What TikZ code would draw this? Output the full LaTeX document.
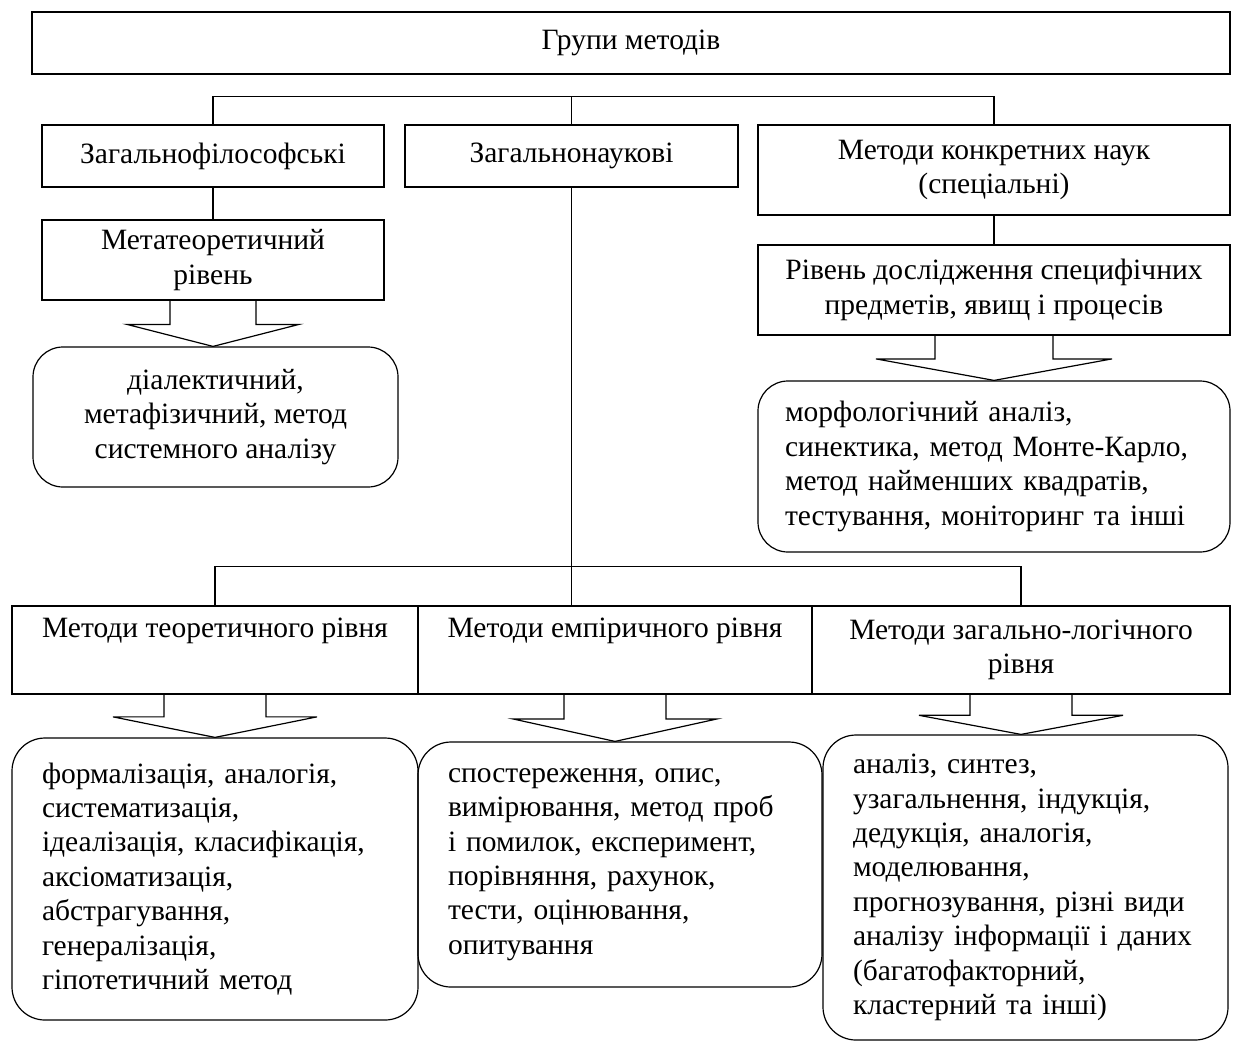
\documentclass[tikz,border=0pt]{standalone}
\usepackage{fontspec}
\setmainfont{Liberation Serif}
\usetikzlibrary{calc}
\tikzset{every picture/.style={line width=1.2pt}}

% hollow block arrow: source node, target node, half width of the stem
\newcommand{\blockarrow}[3]{%
  \coordinate (ba-top) at (#1.south);
  \coordinate (ba-tip) at (#1.south |- #2.north);
  \coordinate (ba-mid) at ($(ba-top)!0.52!(ba-tip)$);
  \draw ($(ba-top)+(-#3,0)$) -- ($(ba-mid)+(-#3,0)$) -- ($(ba-mid)+(-2*#3,0)$) -- (ba-tip)
    -- ($(ba-mid)+(2*#3,0)$) -- ($(ba-mid)+(#3,0)$) -- ($(ba-top)+(#3,0)$);
}

\begin{document}
\begin{tikzpicture}[x=1pt,y=1pt,yscale=-1,xscale=1,
  font=\fontsize{29.5}{34.4}\selectfont,
  box/.style={draw, inner sep=0pt, align=center},
  rbox/.style={draw, rounded corners=30pt, inner sep=0pt}]
\useasboundingbox (0,0) rectangle (1234,1045);

% top
\node[box, minimum width=1198pt, minimum height=62pt] (root) at (631,43) {Групи методів};

% second row
\node[box, minimum width=342pt, minimum height=62pt] (phil) at (213,156) {Загальнофілософські};
\node[box, minimum width=333pt, minimum height=62pt] (sci) at (571.5,156) {Загальнонаукові};
\node[box, minimum width=472pt, minimum height=90pt] (spec) at (994,170) {Методи конкретних наук\\(спеціальні)};

% left column
\node[box, minimum width=342pt, minimum height=80pt] (meta) at (213,260) {Метатеоретичний\\рівень};
\node[rbox, align=center, minimum width=365pt, minimum height=140pt] (dial) at (215.5,417)
  {діалектичний,\\метафізичний, метод\\системного аналізу};

% right column
\node[box, minimum width=472pt, minimum height=90pt] (level) at (994,290) {Рівень дослідження специфічних\\предметів, явищ і процесів};
\node[rbox, align=left, text width=418pt, minimum width=472pt, minimum height=171pt] (morph) at (994,466.5)
  {морфологічний аналіз,\\синектика, метод Монте-Карло,\\метод найменших квадратів,\\тестування, моніторинг та інші};

% third row
\node[box, minimum width=406pt, minimum height=88pt] (theor) at (215,650) {Методи теоретичного рівня\\\strut};
\node[box, minimum width=394pt, minimum height=88pt] (emp) at (615,650) {Методи емпіричного рівня\\\strut};
\node[box, minimum width=418pt, minimum height=88pt] (logic) at (1021,650) {Методи загально-логічного\\рівня};

% bottom
\node[rbox, rounded corners=33pt, align=left, text width=346pt, minimum width=406pt, minimum height=282pt] (formal) at (215,879)
  {формалізація, аналогія,\\систематизація,\\ідеалізація, класифікація,\\аксіоматизація,\\абстрагування,\\генералізація,\\гіпотетичний метод};
\node[rbox, rounded corners=33pt, align=left, text width=344pt, minimum width=404pt, minimum height=245pt] (observ) at (620,864.5)
  {спостереження, опис,\\вимірювання, метод проб\\і помилок, експеримент,\\порівняння, рахунок,\\тести, оцінювання,\\опитування};
\node[rbox, rounded corners=33pt, align=left, text width=345pt, minimum width=405pt, minimum height=305pt] (anal) at (1025.5,887.5)
  {аналіз, синтез,\\узагальнення, індукція,\\дедукція, аналогія,\\моделювання,\\прогнозування, різні види\\аналізу інформації і даних\\(багатофакторний,\\кластерний та інші)};

% connectors
\draw (phil.north) -- ++(0,-28) -| (spec.north);
\draw (sci.north) -- ++(0,-28);
\draw (phil.south) -- (meta.north);
\draw (spec.south) -- (level.north);
\draw (sci.south) -- (sci.south |- emp.north);
\draw (theor.north) -- ++(0,-39) -| (logic.north);

% block arrows
\blockarrow{meta}{dial}{43}
\blockarrow{level}{morph}{59}
\blockarrow{theor}{formal}{51}
\blockarrow{emp}{observ}{51}
\blockarrow{logic}{anal}{51}

\end{tikzpicture}
\end{document}
